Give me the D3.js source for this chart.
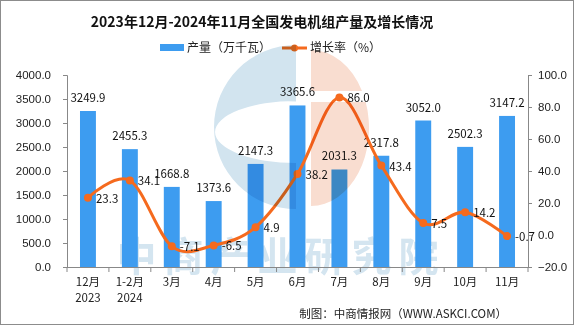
<!DOCTYPE html>
<html>
<head>
<meta charset="utf-8">
<script src="https://cdn.jsdelivr.net/npm/d3@7"></script>
<style>
body { margin: 0; background: #fff; }
svg { display: block; font-family: "Noto Sans CJK SC", sans-serif; }
</style>
</head>
<body>
<div id="chart"></div>
<script>
// months + second line (year) for the first two
const months = ["12月", "1-2月", "3月", "4月", "5月", "6月", "7月", "8月", "9月", "10月", "11月"];
const years = ["2023", "2024", "", "", "", "", "", "", "", "", ""];
const output = [3249.9, 2455.3, 1668.8, 1373.6, 2147.3, 3365.6, 2031.3, 2317.8, 3052.0, 2502.3, 3147.2];
const growth = [23.3, 34.1, -7.1, -6.5, 4.9, 38.2, 86.0, 43.4, 7.5, 14.2, -0.7];
const leftTicks = [0, 500, 1000, 1500, 2000, 2500, 3000, 3500, 4000];
const rightTicks = [-20, 0, 20, 40, 60, 80, 100];

const width = 575, height = 326;
const plotL = 67, plotR = 528, plotT = 75, plotB = 267;
const barColor = "#3d9cf0", lineColor = "#f56a1e";
const numSize = "11.5px";

const svg = d3.select("#chart").append("svg")
	.attr("width", width)
	.attr("height", height);

// outer frame
svg.append("rect").attr("x", 0.5).attr("y", 0.5).attr("width", width - 2).attr("height", height - 2)
	.attr("fill", "#fff").attr("stroke", "#8c8c8c");

// watermark text sits behind the bars
svg.append("text").attr("x", 281).attr("y", 271).attr("text-anchor", "middle")
	.style("font-size", "40px").style("font-weight", "bold").attr("fill", "#d4e5f0")
	.attr("letter-spacing", 7).text("中商产业研究院");

const x = d3.scaleBand().domain(months).range([plotL, plotR]).paddingInner(0.62).paddingOuter(0.31);
const band = (plotR - plotL) / months.length;
const y = d3.scaleLinear().domain([0, 4000]).range([plotB, plotT]);
const y2 = d3.scaleLinear().domain([-20, 100]).range([plotB, plotT]);

// title
svg.append("text").attr("x", 262).attr("y", 27).attr("text-anchor", "middle")
	.style("font-size", "14px").style("font-weight", "bold").attr("fill", "#111")
	.text("2023年12月-2024年11月全国发电机组产量及增长情况");

// legend
const lg = svg.append("g").style("font-size", "12px");
lg.append("rect").attr("x", 160).attr("y", 44).attr("width", 24).attr("height", 7).attr("fill", barColor);
lg.append("text").attr("x", 187).attr("y", 52).attr("fill", "#222").text("产量（万千瓦）");
lg.append("line").attr("x1", 282).attr("x2", 307).attr("y1", 48).attr("y2", 48)
	.attr("stroke", lineColor).attr("stroke-width", 3);
lg.append("circle").attr("cx", 294.5).attr("cy", 48).attr("r", 3.5).attr("fill", lineColor);
lg.append("text").attr("x", 310).attr("y", 52).attr("fill", "#222").text("增长率（%）");

// axes
const axisFont = g => g.selectAll("text").style("font-size", numSize).attr("fill", "#222");

svg.append("g").attr("transform", `translate(${plotL},0)`)
	.call(d3.axisLeft(y).tickValues(leftTicks).tickFormat(d3.format(".1f")).tickSize(4).tickPadding(12))
	.call(g => g.select(".domain").attr("stroke", "#888"))
	.call(g => g.selectAll(".tick line").attr("stroke", "#888"))
	.call(axisFont);

svg.append("g").attr("transform", `translate(${plotR},0)`)
	.call(d3.axisRight(y2).tickValues(rightTicks).tickFormat(d3.format(".1f")).tickSize(4).tickPadding(6))
	.call(g => g.select(".domain").attr("stroke", "#888"))
	.call(g => g.selectAll(".tick line").attr("stroke", "#888"))
	.call(axisFont);

// x axis line, ticks between the categories, two-line labels
const xa = svg.append("g");
xa.append("line").attr("x1", plotL).attr("x2", plotR).attr("y1", plotB + 0.5).attr("y2", plotB + 0.5).attr("stroke", "#888");
xa.selectAll("line.tk").data(d3.range(months.length + 1)).enter().append("line")
	.attr("class", "tk")
	.attr("x1", i => plotL + i * band).attr("x2", i => plotL + i * band)
	.attr("y1", plotB).attr("y2", plotB + 5).attr("stroke", "#888");
xa.selectAll("text.m").data(months).enter().append("text")
	.attr("class", "m")
	.attr("x", d => x(d) + x.bandwidth() / 2).attr("y", 286)
	.attr("text-anchor", "middle").style("font-size", numSize).attr("fill", "#222")
	.text(d => d);
xa.selectAll("text.yr").data(years).enter().append("text")
	.attr("class", "yr")
	.attr("x", (d, i) => x(months[i]) + x.bandwidth() / 2).attr("y", 302)
	.attr("text-anchor", "middle").style("font-size", numSize).attr("fill", "#222")
	.text(d => d);

// bars
svg.selectAll("rect.bar").data(output).enter().append("rect")
	.attr("class", "bar")
	.attr("x", (d, i) => x(months[i]))
	.attr("y", d => y(d))
	.attr("width", x.bandwidth())
	.attr("height", d => plotB - y(d))
	.attr("fill", barColor);

svg.selectAll("text.bl").data(output).enter().append("text")
	.attr("class", "bl")
	.attr("x", (d, i) => x(months[i]) + x.bandwidth() / 2)
	.attr("y", d => y(d) - 9)
	.attr("text-anchor", "middle").style("font-size", numSize).attr("fill", "#111")
	.text(d => d.toFixed(1));

// growth line (smoothed like the original)
const cx = i => x(months[i]) + x.bandwidth() / 2;
const line = d3.line()
	.x((d, i) => cx(i))
	.y(d => y2(d))
	.curve(d3.curveCatmullRom.alpha(0));

svg.append("path").datum(growth)
	.attr("d", line)
	.attr("fill", "none").attr("stroke", lineColor).attr("stroke-width", 3);

svg.selectAll("circle.pt").data(growth).enter().append("circle")
	.attr("class", "pt")
	.attr("cx", (d, i) => cx(i)).attr("cy", d => y2(d)).attr("r", 4)
	.attr("fill", lineColor);

// logo watermark, tinted over the marks
const logo = svg.append("g").style("mix-blend-mode", "multiply");
logo.append("path")
	.attr("d", "M296,45 A82,82 0 0,0 296,209 Z M296,101 A81,31 0 0,0 296,163 Z")
	.attr("fill-rule", "evenodd")
	.attr("fill", "#d2e4ef");
logo.append("path")
	.attr("d", "M311,50 A58,78 0 0,1 362,91 L311,91 Z M311,102 L365.7,102 A58,78 0 0,1 311,206 Z")
	.attr("fill", "#f9ddd0");

svg.selectAll("text.gl").data(growth).enter().append("text")
	.attr("class", "gl")
	.attr("x", (d, i) => cx(i) + 8)
	.attr("y", d => y2(d) + 5)
	.style("font-size", numSize).attr("fill", "#111")
	.text(d => d.toFixed(1));

// footer
svg.append("text").attr("x", 507).attr("y", 318).attr("text-anchor", "end")
	.style("font-size", "11.5px").attr("fill", "#222")
	.text("制图：中商情报网（WWW.ASKCI.COM）");
</script>
</body>
</html>
